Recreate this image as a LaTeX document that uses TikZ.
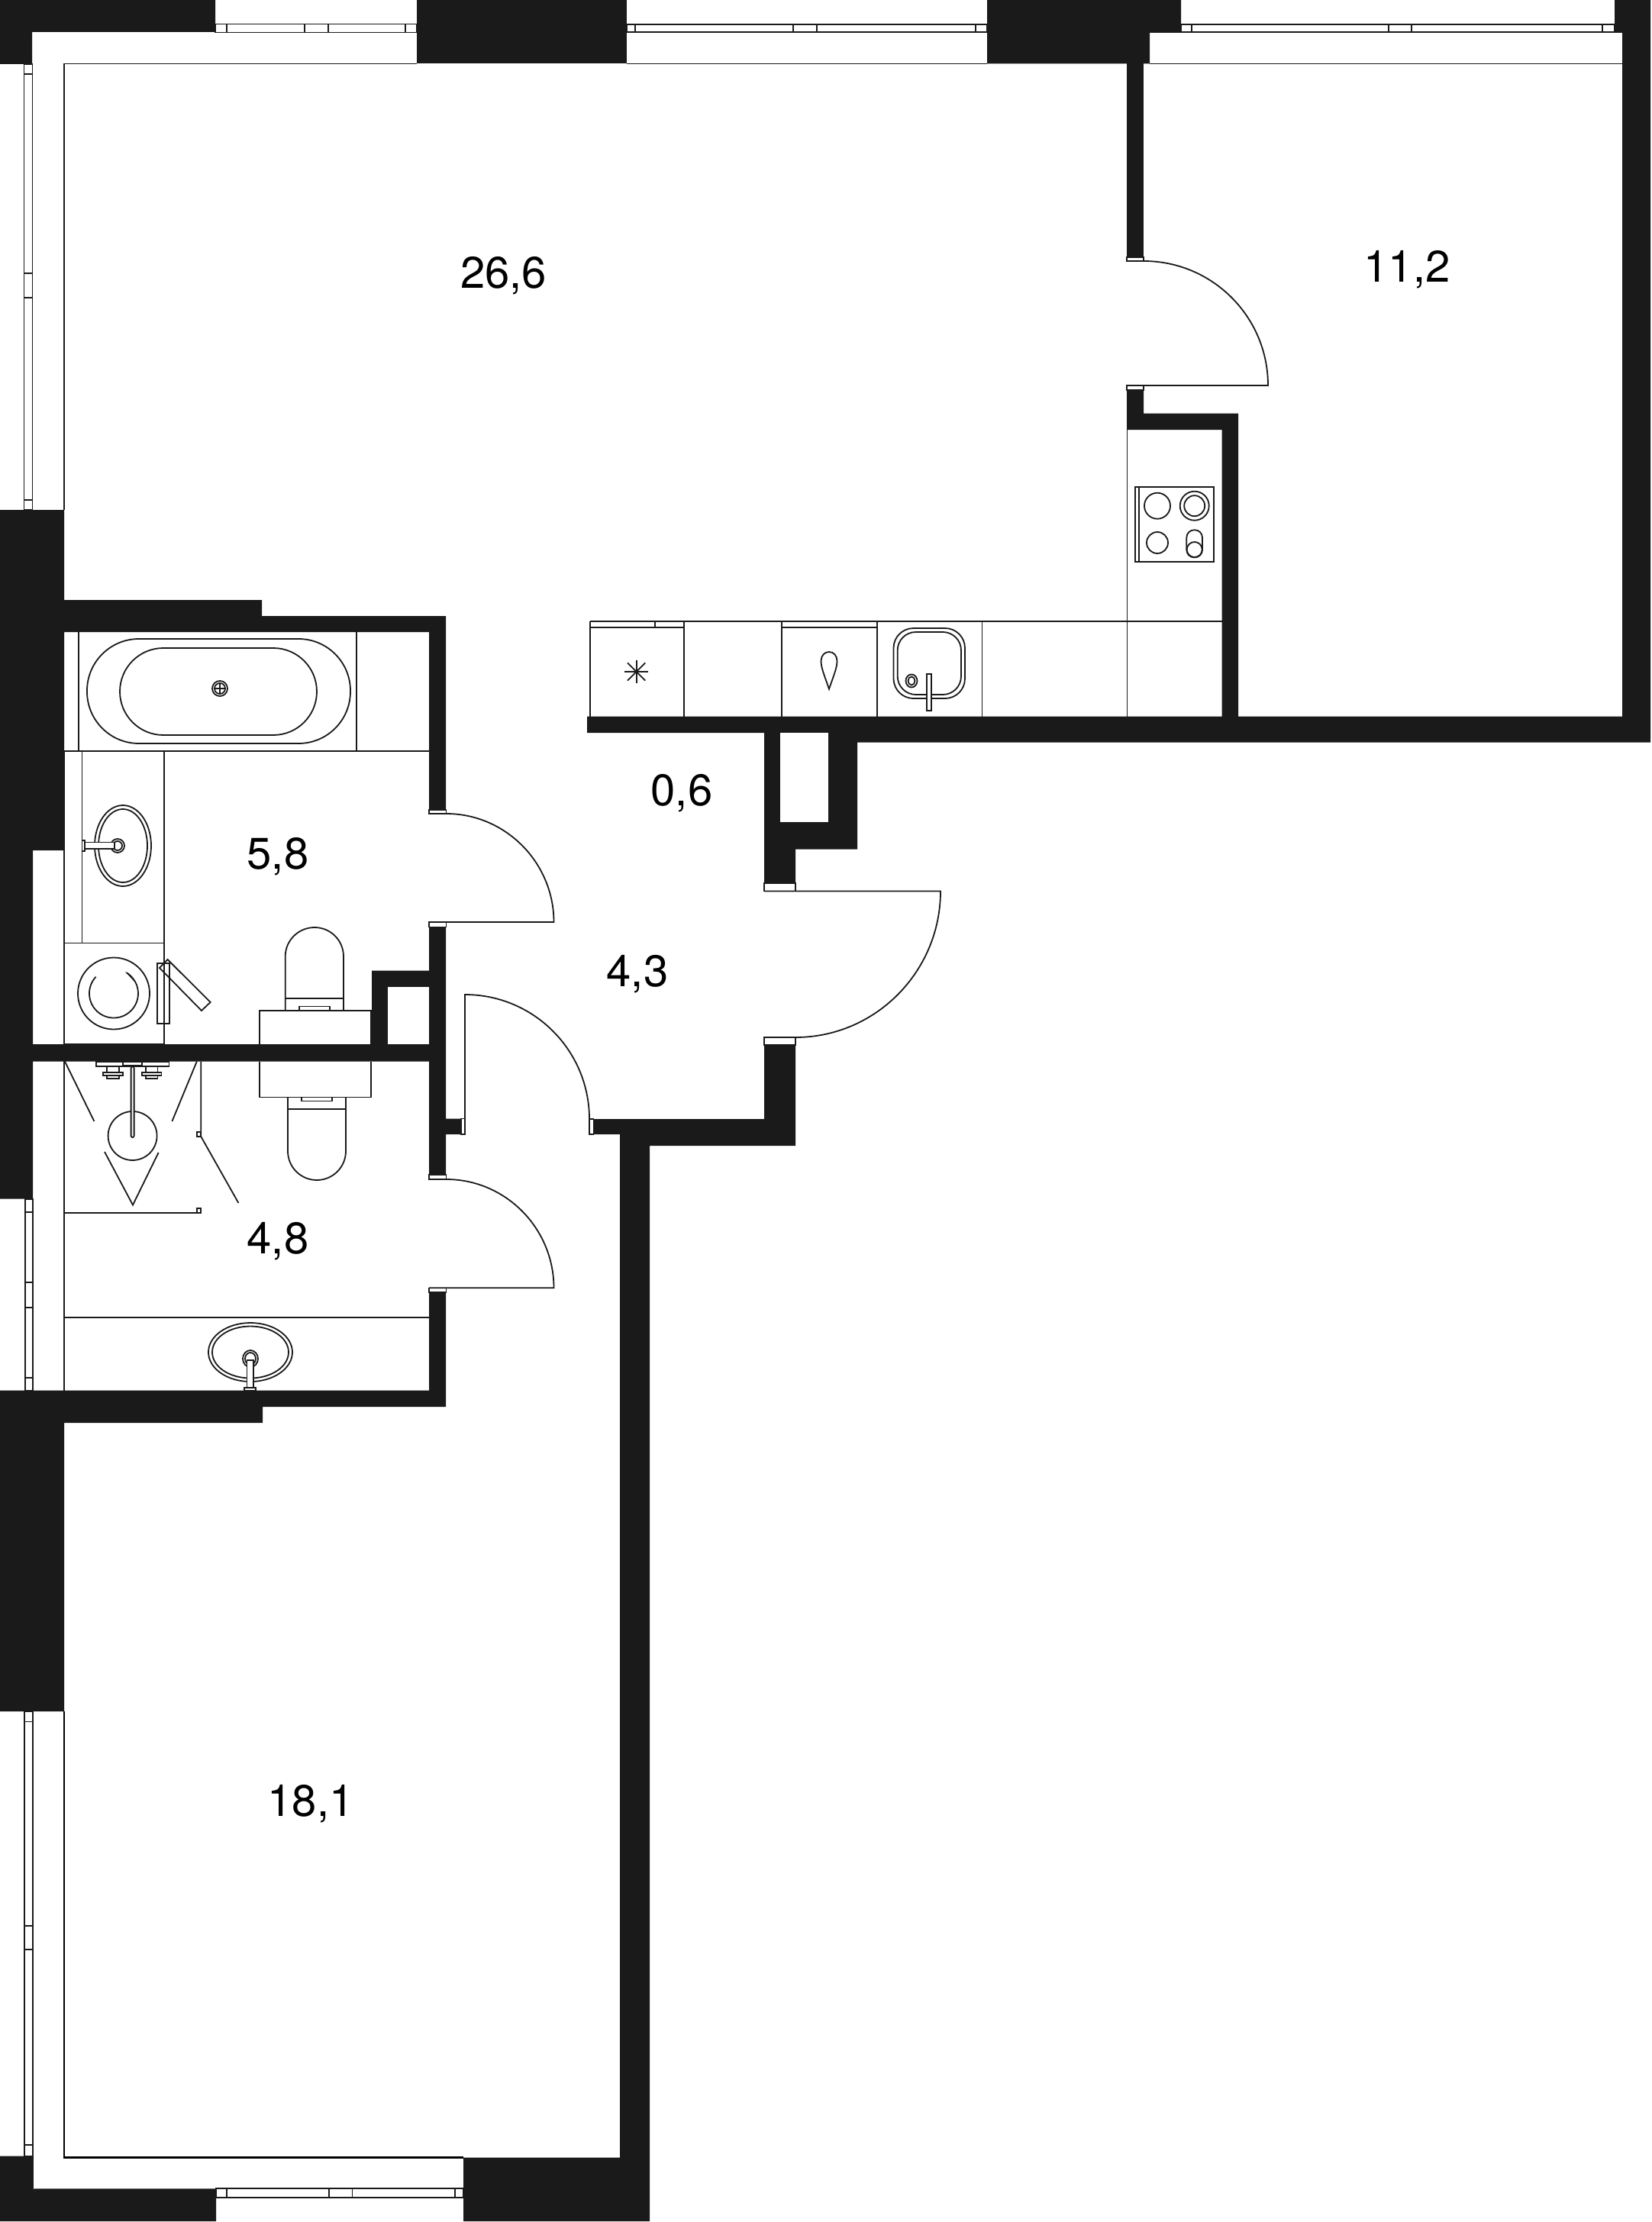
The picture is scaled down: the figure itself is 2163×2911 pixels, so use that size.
\documentclass[tikz,border=0pt]{standalone}
\usepackage{fontspec}
\setmainfont{TeX Gyre Heros}
\definecolor{wallc}{HTML}{1A1A1A}
\tikzset{
  wall/.style={fill=wallc,draw=none},
  ln/.style={draw=wallc,line width=1.8pt,line join=miter},
  hvy/.style={draw=black,line width=2.4pt},
  fin/.style={draw=wallc,line width=1.8pt},
  doorcap/.style={fill=white,draw=wallc,line width=1.2pt},
  roomlabel/.style={anchor=base,inner sep=0pt,text=black,font=\fontsize{58}{58}\selectfont}
}
\newcommand{\winH}[5]{% x0,y0,x1,y1,mullions
  \draw[ln,fill=white] (#1,#2) rectangle (#3,#4);
  \foreach \m in {#5} {\draw[ln] (\m,#2) -- (\m,#4);}
}
\newcommand{\winV}[5]{%
  \draw[ln,fill=white] (#1,#2) rectangle (#3,#4);
  \foreach \m in {#5} {\draw[ln] (#1,\m) -- (#3,\m);}
}
\begin{document}
\begin{tikzpicture}[x=1pt,y=-1pt]
\useasboundingbox (0,0) rectangle (2163,2911);
\fill[white] (0,0) rectangle (2163,2911);
% windows
\winH{282}{31.5}{546}{42.5}{297,399,430,531}
\winH{821}{31.7}{1293}{42.3}{832,1039,1070,1277.7}
\winH{1547}{31.7}{2115}{42.3}{1560.6,1819,1848.6,2099}
\winV{31.5}{84}{42.5}{668}{97,358,390,655}
\winV{33}{1570.7}{43.3}{1821.7}{1587.7,1680,1712.7,1805}
\winV{31.7}{2242}{43.3}{2824.6}{2255.5,2523,2554,2810}
\winH{283}{2867.3}{607}{2879}{297,431,461.5,596}
% thin room outlines
\draw[ln] (84,668) -- (84,83.5) -- (546,83.5);
\draw[ln] (821,83.5) -- (1293,83.5);
\draw[ln] (1506,83.5) -- (2125,83.5);
\draw[ln] (1506,42.3) -- (2125,42.3);
\draw[ln] (84,1390) -- (84,1822);
\draw[hvy] (84,2242) -- (84,2826.5) -- (607,2826.5);
\draw[ln] (43,2824) -- (43,2867.3);
% walls
\fill[wall] (0,0) -- (282,0) -- (282,42) -- (42,42) -- (42,84) -- (0,84) -- cycle;
\fill[wall] (546,0) rectangle (821,83.5);
\fill[wall] (1293,0) -- (1547,0) -- (1547,42) -- (1506,42) -- (1506,83.5) -- (1293,83.5) -- cycle;
\fill[wall] (2115,0) -- (2162,0) -- (2162,972.5) -- (1123,972.5) -- (1123,1112.6) -- (1042,1112.6) -- (1042,1157) -- (1001,1157) -- (1001,960) -- (769,960) -- (769,938.7) -- (1600.5,938.7) -- (1600.5,563) -- (1476,563) -- (1476,511) -- (1498,511) -- (1498,541.5) -- (1622,541.5) -- (1622,938.7) -- (2125,938.7) -- (2125,42) -- (2115,42) -- cycle;
\fill[white] (1022,960) rectangle (1084.6,1076.6);
\fill[wall] (1476,83.5) rectangle (1498,337);
\fill[wall] (0,668) -- (84,668) -- (84,786) -- (343,786) -- (343,807) -- (584,807) -- (584,1061) -- (562,1061) -- (562,828) -- (84,828) -- (84,1114) -- (43,1114) -- (43,1368) -- (487,1368) -- (487,1271.5) -- (562,1271.5) -- (562,1214.6) -- (584,1214.6) -- (584,1465.7) -- (604,1465.7) -- (604,1486) -- (584,1486) -- (584,1539) -- (562,1539) -- (562,1390.6) -- (43,1390.6) -- (43,1570.7) -- (0,1570.7) -- cycle;
\fill[white] (508,1293) rectangle (562,1368);
\fill[wall] (0,1821.7) -- (562,1821.7) -- (562,1693) -- (584,1693) -- (584,1843) -- (344,1843) -- (344,1864) -- (84,1864) -- (84,2242) -- (0,2242) -- cycle;
\fill[wall] (0,2824.6) -- (43,2824.6) -- (43,2867.3) -- (283,2867.3) -- (283,2910) -- (0,2910) -- cycle;
\fill[wall] (1042,1369) -- (1042,1501) -- (851,1501) -- (851,2910) -- (607,2910) -- (607,2826.5) -- (812,2826.5) -- (812,1486) -- (777.5,1486) -- (777.5,1466) -- (1001,1466) -- (1001,1369) -- cycle;
% door frames
\draw[doorcap] (1476,337) rectangle (1498,342);
\draw[doorcap] (1476,505) rectangle (1498,511);
\draw[doorcap] (562,1061) rectangle (584.5,1066);
\draw[doorcap] (562,1208) rectangle (584.5,1214.6);
\draw[doorcap] (562,1539) rectangle (584.5,1545);
\draw[doorcap] (562,1687.3) rectangle (584.5,1693);
\draw[doorcap] (1001,1157) rectangle (1042,1167.5);
\draw[doorcap] (1001,1359) rectangle (1042,1369);
\draw[doorcap] (604,1465.7) rectangle (609,1486);
\draw[doorcap] (772,1466) rectangle (777.5,1486);
% door leaves
\draw[ln] (1498,342) .. controls (1588,342) and (1661,415) .. (1661,505) -- (1476,505);
\draw[ln] (1042,1359) .. controls (1147,1359) and (1232,1272.5) .. (1232,1167.5) -- (1001,1167.5);
\draw[ln] (584.5,1066) .. controls (662,1066) and (725.5,1130) .. (725.5,1208) -- (562,1208);
\draw[ln] (584.5,1545) .. controls (662,1545) and (725.5,1609) .. (725.5,1687.3) -- (562,1687.3);
\draw[ln] (609,1466) -- (609,1303) .. controls (699,1303) and (772,1376) .. (772,1466);
% bath
\draw[fin] (103,828) -- (103,984);
\draw[fin] (467,828) -- (467,984);
\draw[fin] (84,984) -- (562,984);
\draw[ln,rounded corners=68pt] (114,837) rectangle (459,974);
\draw[ln,rounded corners=57pt] (157,849) rectangle (415,963);
\draw[ln] (288,902) circle (10pt);
\draw[ln] (288,902) circle (7pt);
\draw[fin] (281,902) -- (295,902) (288,895) -- (288,909);
% vanity & sink
\draw[fin] (107.5,984) -- (107.5,1235.5);
\draw[ln] (215,984) -- (215,1367.6);
\draw[ln] (84,984) -- (84,1367.6) -- (215,1367.6);
\draw[ln] (84,1235.5) -- (215,1235.5);
\draw[ln] (161,1108) ellipse [x radius=37pt,y radius=53pt];
\draw[ln] (161,1108) ellipse [x radius=32pt,y radius=48pt];
\draw[ln] (154,1108) circle (9pt);
\draw[ln,fill=white] (154,1108) circle (6pt);
\draw[ln,fill=white] (110.7,1103.5) rectangle (150,1112);
\draw[ln,fill=white] (107.5,1101) rectangle (110.7,1115);
% washer
\draw[ln] (149,1301.5) circle (47pt);
\draw[ln] (149,1301.5) ++(-137:32) arc[start angle=-137,end angle=-419,radius=32];
\fill[wallc] (164,1273) -- (176,1286) -- (171,1278) -- cycle;
\draw[ln] (206,1262) rectangle (222,1340.7);
\draw[ln] (209,1268) -- (219.5,1257) -- (275.6,1313) -- (264,1324) -- cycle;
% toilet upper
\draw[ln] (373.7,1323.7) -- (373.7,1253) .. controls (373.7,1232) and (391,1215) .. (412,1215) .. controls (433,1215) and (450,1232) .. (450,1253) -- (450,1323.7);
\draw[ln] (373.7,1308) -- (450,1308);
\draw[ln] (392,1318.5) rectangle (432,1323.7);
\draw[ln] (340,1367.6) -- (340,1323.7) -- (485.6,1323.7) -- (485.6,1367.6);
% toilet lower
\draw[ln] (340,1390.6) -- (340,1437.5) -- (485.6,1437.5) -- (485.6,1390.6);
\draw[ln] (377,1437.5) -- (377,1508) .. controls (377,1529) and (394,1546) .. (415,1546) .. controls (436,1546) and (453,1529) .. (453,1508) -- (453,1437.5);
\draw[ln] (377,1452.7) -- (453,1452.7);
\draw[ln] (394.6,1437.5) rectangle (435,1442.4);
% shower
\draw[ln] (126,1390.6) rectangle (221.4,1397.3);
\draw[ln] (161,1390.6) rectangle (186,1395.5);
\draw[ln] (140,1397.3) -- (140,1405) (156,1397.3) -- (156,1405);
\draw[ln] (135,1405) rectangle (161,1409);
\draw[ln] (140,1409) rectangle (156,1413);
\draw[ln] (190.6,1397.3) -- (190.6,1405) (206.4,1397.3) -- (206.4,1405);
\draw[ln] (186,1405) rectangle (211.5,1409);
\draw[ln] (190.6,1409) rectangle (206.4,1413);
\draw[ln] (173.6,1488) circle (32pt);
\draw[ln,fill=white,rounded corners=2pt] (171.6,1397.3) rectangle (175.6,1490);
\draw[fin] (85,1390.6) -- (123.4,1469);
\draw[fin] (257.8,1390.6) -- (225.4,1469);
\draw[fin] (137,1509) -- (174,1578.6) -- (207.6,1510);
\draw[fin] (263.3,1390.6) -- (263.3,1489) -- (312.4,1576);
\draw[ln] (257.8,1482.6) rectangle (263.3,1489.3);
\draw[ln] (84,1589) -- (263.3,1589);
\draw[ln] (257.8,1582.6) rectangle (263.3,1589);
% lower vanity
\draw[fin] (84,1726) -- (562,1726);
\draw[ln] (328,1771.5) ellipse [x radius=55pt,y radius=38.5pt];
\draw[ln] (328,1771.5) ellipse [x radius=50pt,y radius=34pt];
\draw[ln] (328,1780) ellipse [x radius=10pt,y radius=11pt];
\draw[ln] (328,1780) ellipse [x radius=7pt,y radius=8pt];
\draw[ln,fill=white] (323.4,1782) rectangle (332,1818);
\draw[ln,fill=white] (320,1818) rectangle (335,1821.7);
% kitchen
\draw[fin] (1476.5,563) -- (1476.5,938.7);
\draw[fin] (772.7,814.3) -- (1600.5,814.3);
\foreach \kx in {772.7,896,1023.6,1148.7,1286.5} {\draw[fin] (\kx,814.3) -- (\kx,938.7);}
\draw[fin] (772.7,821.7) -- (896,821.7);
\draw[fin] (857.7,814.3) -- (857.7,821.7);
\draw[fin] (1023.6,821.7) -- (1148.7,821.7);
\draw[fin] (833.6,864.7) -- (833.6,895.3);
\draw[fin] (818,880) -- (849,880);
\draw[fin] (822,868.4) -- (845.2,891.6);
\draw[fin] (822,891.6) -- (845.2,868.4);
\draw[ln] (1086,902.7) .. controls (1080,885) and (1075.5,875) .. (1075.5,866) .. controls (1075.5,859) and (1080,854) .. (1086,854) .. controls (1092,854) and (1096.5,859) .. (1096.5,866) .. controls (1096.5,875) and (1092,885) .. (1086,902.7) -- cycle;
\draw[ln,rounded corners=26pt] (1170.5,823) rectangle (1264,915);
\draw[ln,rounded corners=24pt] (1175.7,828) rectangle (1259,910);
\draw[fin] (1194,892) ellipse [x radius=7.5pt,y radius=8.5pt];
\draw[fin] (1194,892) ellipse [x radius=4.5pt,y radius=5.5pt];
\draw[ln,fill=white] (1214,882.7) rectangle (1220,931);
% cooktop
\draw[ln] (1487.3,637.7) rectangle (1589.7,736);
\draw[ln] (1492,637.7) -- (1492,736);
\draw[ln] (1516,662.7) circle (17pt);
\draw[ln] (1564.7,662.7) circle (19pt);
\draw[ln] (1564.7,662.7) circle (13.5pt);
\draw[ln] (1516,711) circle (14pt);
\draw[ln,rounded corners=10pt] (1554.3,694.3) rectangle (1575,730.3);
\draw[ln] (1564.7,720) circle (10pt);
% room areas
\node[roomlabel] (livingarea) at (659.5,377) {26,6};
\node[roomlabel] (bedroomone) at (1843,370) {11,2};
\node[roomlabel] (closet) at (893,1055) {0,6};
\node[roomlabel] (hall) at (835,1292) {4,3};
\node[roomlabel] (bathone) at (364,1138) {5,8};
\node[roomlabel] (bathtwo) at (364,1642) {4,8};
\node[roomlabel] (bedroomtwo) at (407,2379) {18,1};
\end{tikzpicture}
\end{document}
